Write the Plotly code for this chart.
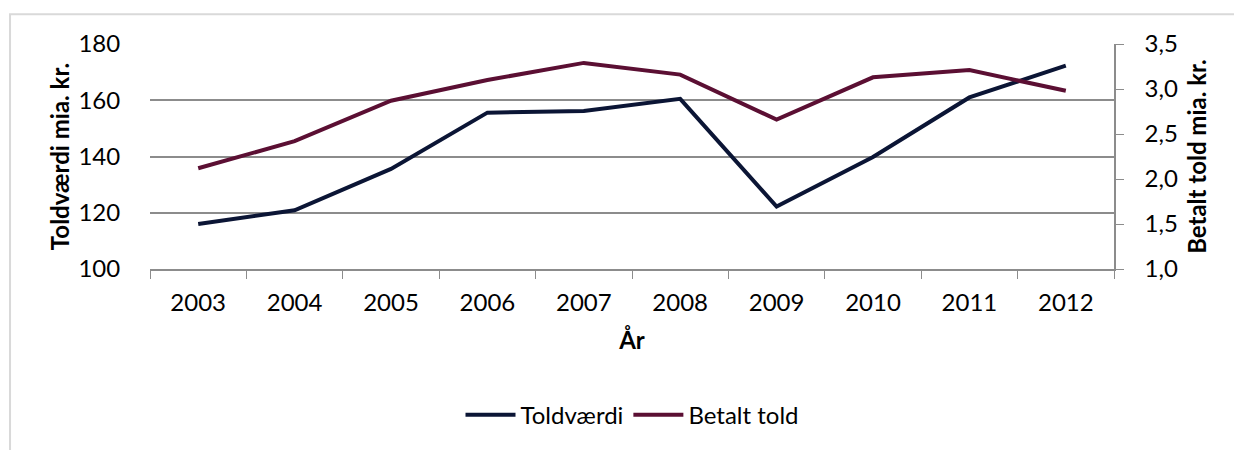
import plotly.graph_objects as go

years = ["2003", "2004", "2005", "2006", "2007", "2008", "2009", "2010", "2011", "2012"]
toldvaerdi = [116.0, 120.9, 135.6, 155.6, 156.2, 160.5, 122.2, 139.8, 161.0, 172.3]
betalt_told = [2.12, 2.42, 2.87, 3.10, 3.29, 3.16, 2.66, 3.13, 3.21, 2.98]

NAVY = "#0B1535"
MAROON = "#5B0F33"
GRID = "#8C8C8C"
FONT = "Lato"

fig = go.Figure()
fig.add_trace(go.Scatter(x=years, y=toldvaerdi, name="Toldværdi", mode="lines",
                         line=dict(color=NAVY, width=4)))
fig.add_trace(go.Scatter(x=years, y=betalt_told, name="Betalt told", mode="lines",
                         line=dict(color=MAROON, width=4), yaxis="y2"))

# light gray chart-area frame (runs off the right and bottom edge)
fig.add_shape(type="rect", xref="paper", yref="paper",
              x0=-0.1452, x1=1.3, y0=-1.2, y1=1.132,
              line=dict(color="#D9D9D9", width=2), layer="below")

fig.update_layout(
    width=1234, height=450,
    margin=dict(l=150, r=120, t=44, b=179),
    paper_bgcolor="white", plot_bgcolor="white",
    separators=",.",
    font=dict(family=FONT, size=23, color="black"),
    showlegend=True,
    legend=dict(orientation="h", x=0.5, xanchor="center", y=-0.55, yanchor="top",
                font=dict(size=24), itemwidth=50, tracegroupgap=0),
    xaxis=dict(
        type="category", tickson="boundaries", ticks="outside", ticklen=8,
        tickcolor=GRID, showline=True, linecolor=GRID, linewidth=1.5,
        showgrid=False, range=[-0.5, 9.5], ticklabelstandoff=11,
        tickfont=dict(size=24),
        title=dict(text="<b>År</b>", standoff=18, font=dict(size=24)),
    ),
    yaxis=dict(
        range=[100, 180], dtick=20, showgrid=True, gridcolor=GRID, gridwidth=1.5,
        showline=False, ticks="outside", ticklen=24, tickcolor="rgba(0,0,0,0)",
        zeroline=False, tickfont=dict(size=24),
        title=dict(text="<b>Toldværdi mia. kr.</b>", standoff=2, font=dict(size=24)),
    ),
    yaxis2=dict(
        overlaying="y", side="right", range=[1.0, 3.5], dtick=0.5, tickformat=".1f",
        showgrid=False, showline=True, linecolor=GRID, linewidth=1.5,
        ticks="outside", ticklen=8, tickcolor=GRID, zeroline=False,
        ticklabelstandoff=16, tickfont=dict(size=24),
        title=dict(text="<b>Betalt told mia. kr.</b>", standoff=12, font=dict(size=24)),
    ),
)

fig.write_html("out.html", config={"displayModeBar": False},
               post_script="document.body.style.margin='0';")
